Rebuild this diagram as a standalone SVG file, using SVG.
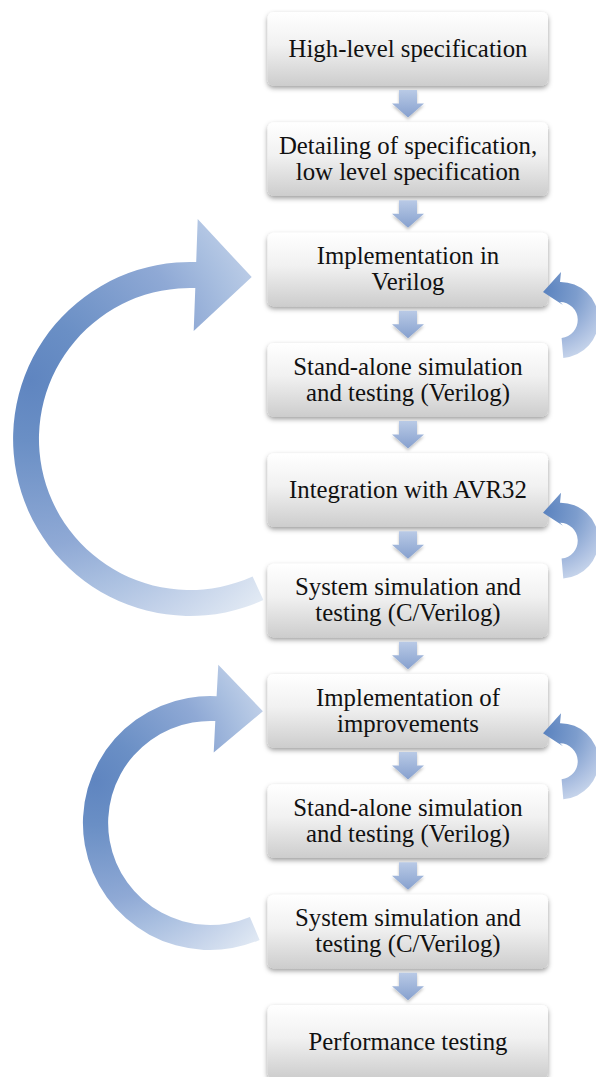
<svg xmlns="http://www.w3.org/2000/svg" width="596" height="1077" viewBox="0 0 596 1077">
  <defs>
    <style>
      .box { fill: url(#boxFill); filter: url(#boxShadow); }
      .lbl { font-family: "Liberation Serif", "Times New Roman", serif; font-size: 24.8px; fill: #111; text-anchor: middle; }
      .down { fill: url(#downFill); filter: url(#arrowShadow); }
    </style>
    <linearGradient id="boxFill" x1="0" y1="0" x2="0" y2="1">
      <stop offset="0" stop-color="#ffffff"/>
      <stop offset="0.45" stop-color="#f1f1f1"/>
      <stop offset="1" stop-color="#cdcdcd"/>
    </linearGradient>
    <linearGradient id="downFill" x1="0" y1="0" x2="0" y2="1">
      <stop offset="0" stop-color="#b9cae6"/>
      <stop offset="1" stop-color="#86a0ce"/>
    </linearGradient>
    <radialGradient id="loopFillA" gradientUnits="userSpaceOnUse" cx="30" cy="380" r="320">
      <stop offset="0" stop-color="#5f85c0"/>
      <stop offset="0.19" stop-color="#6a8fc5"/>
      <stop offset="0.52" stop-color="#8fa9d5"/>
      <stop offset="0.67" stop-color="#a9bfe0"/>
      <stop offset="0.81" stop-color="#c2d1e9"/>
      <stop offset="1" stop-color="#e2eaf4"/>
    </radialGradient>
    <radialGradient id="loopFillB" gradientUnits="userSpaceOnUse" cx="95" cy="781" r="230">
      <stop offset="0" stop-color="#5f85c0"/>
      <stop offset="0.19" stop-color="#6a8fc5"/>
      <stop offset="0.52" stop-color="#8fa9d5"/>
      <stop offset="0.67" stop-color="#a9bfe0"/>
      <stop offset="0.81" stop-color="#c2d1e9"/>
      <stop offset="1" stop-color="#e2eaf4"/>
    </radialGradient>
    <radialGradient id="retryFill" gradientUnits="userSpaceOnUse" cx="545" cy="290" r="80">
      <stop offset="0" stop-color="#5b83bf"/>
      <stop offset="0.4" stop-color="#7d9dcd"/>
      <stop offset="0.7" stop-color="#aabee0"/>
      <stop offset="1" stop-color="#d4dff0"/>
    </radialGradient>
    <filter id="boxShadow" x="-10%" y="-20%" width="120%" height="150%">
      <feDropShadow dx="0" dy="2.5" stdDeviation="2.5" flood-color="#000" flood-opacity="0.4"/>
    </filter>
    <filter id="arrowShadow" x="-30%" y="-30%" width="160%" height="170%">
      <feDropShadow dx="0" dy="2" stdDeviation="1.8" flood-color="#000" flood-opacity="0.25"/>
    </filter>
    <!-- block arrow hanging under a box; origin = bottom edge of the box -->
    <path id="downArrow" d="M399,4.5 H417 V18 H424 L408,32 L392,18 H399 Z"/>
    <!-- small curved retry arrow on the right edge of a box -->
    <path id="retry" d="M563.3,357.9 A38,38 0 0 0 560,282 L561,272 L543,292 L563,305 L560,302 A18,18 0 0 1 561.6,337.9 Z"/>
  </defs>

  <!-- nodes -->
  <g id="n1"><rect class="box" x="267.5" y="12" width="280.5" height="73.5" rx="6"/>
    <text class="lbl" x="408" y="56.5">High-level specification</text></g>
  <g id="n2"><rect class="box" x="267.5" y="122.3" width="280.5" height="73.5" rx="6"/>
    <text class="lbl" x="408" y="154">Detailing of specification,</text>
    <text class="lbl" x="408" y="180">low level specification</text></g>
  <g id="n3"><rect class="box" x="267.5" y="232.7" width="280.5" height="73.5" rx="6"/>
    <text class="lbl" x="408" y="264.4">Implementation in</text>
    <text class="lbl" x="408" y="290.4">Verilog</text></g>
  <g id="n4"><rect class="box" x="267.5" y="343" width="280.5" height="73.5" rx="6"/>
    <text class="lbl" x="408" y="374.7">Stand-alone simulation</text>
    <text class="lbl" x="408" y="400.7">and testing (Verilog)</text></g>
  <g id="n5"><rect class="box" x="267.5" y="453.3" width="280.5" height="73.5" rx="6"/>
    <text class="lbl" x="408" y="497.8">Integration with AVR32</text></g>
  <g id="n6"><rect class="box" x="267.5" y="563.7" width="280.5" height="73.5" rx="6"/>
    <text class="lbl" x="408" y="595.4">System simulation and</text>
    <text class="lbl" x="408" y="621.4">testing (C/Verilog)</text></g>
  <g id="n7"><rect class="box" x="267.5" y="674" width="280.5" height="73.5" rx="6"/>
    <text class="lbl" x="408" y="705.7">Implementation of</text>
    <text class="lbl" x="408" y="731.7">improvements</text></g>
  <g id="n8"><rect class="box" x="267.5" y="784.3" width="280.5" height="73.5" rx="6"/>
    <text class="lbl" x="408" y="816">Stand-alone simulation</text>
    <text class="lbl" x="408" y="842">and testing (Verilog)</text></g>
  <g id="n9"><rect class="box" x="267.5" y="894.7" width="280.5" height="73.5" rx="6"/>
    <text class="lbl" x="408" y="926.4">System simulation and</text>
    <text class="lbl" x="408" y="952.4">testing (C/Verilog)</text></g>
  <g id="n10"><rect class="box" x="267.5" y="1005" width="280.5" height="73.5" rx="6"/>
    <text class="lbl" x="408" y="1049.5">Performance testing</text></g>

  <!-- connectors -->
  <g id="connectors">
    <use href="#downArrow" class="down" transform="translate(0,85.5)"/>
    <use href="#downArrow" class="down" transform="translate(0,195.8)"/>
    <use href="#downArrow" class="down" transform="translate(0,306.2)"/>
    <use href="#downArrow" class="down" transform="translate(0,416.5)"/>
    <use href="#downArrow" class="down" transform="translate(0,526.8)"/>
    <use href="#downArrow" class="down" transform="translate(0,637.2)"/>
    <use href="#downArrow" class="down" transform="translate(0,747.5)"/>
    <use href="#downArrow" class="down" transform="translate(0,857.8)"/>
    <use href="#downArrow" class="down" transform="translate(0,968.2)"/>

    <!-- loop back from system test to implementation -->
    <path fill="url(#loopFillA)" d="M263.4,600.1 A177,177 0 1 1 196.2,262.1 L197.7,219.1 L251.7,277.1 L193.7,331.1 L195.3,288.1 A151,151 0 1 0 252.6,576.4 Z"/>
    <!-- loop back from second system test to improvements -->
    <path fill="url(#loopFillB)" d="M259.6,939.9 A127,127 0 1 1 216.6,696.2 L218.3,664.8 L262.9,711.2 L213.7,752.6 L215.3,721.1 A102,102 0 1 0 249.9,916.9 Z"/>

    <!-- local retry arrows -->
    <use href="#retry" fill="url(#retryFill)"/>
    <use href="#retry" fill="url(#retryFill)" transform="translate(0,220.7)"/>
    <use href="#retry" fill="url(#retryFill)" transform="translate(0,441.3)"/>
  </g>
</svg>
